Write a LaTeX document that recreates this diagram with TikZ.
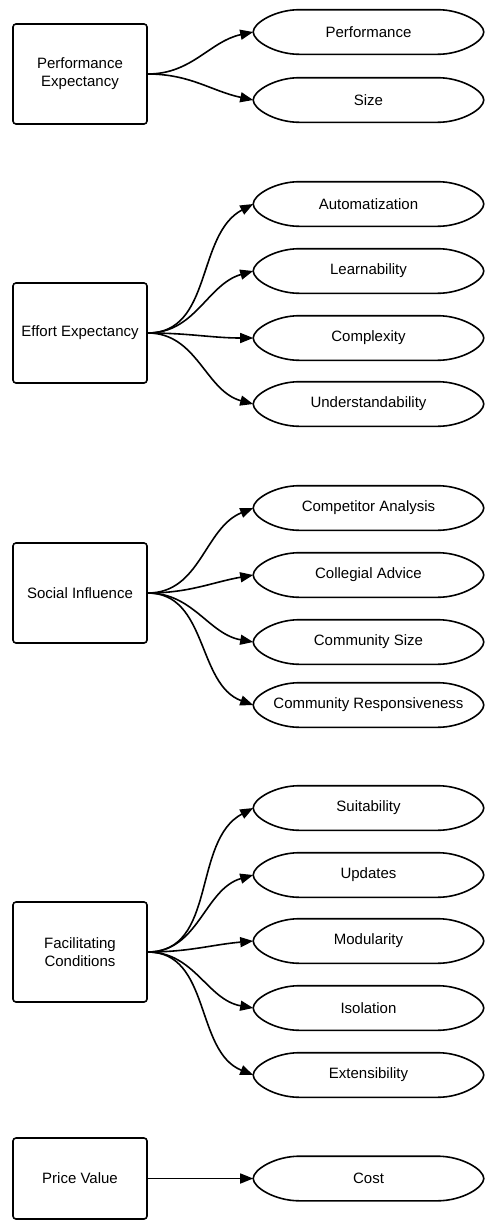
\documentclass[tikz,border=0pt]{standalone}
\usepackage{fontspec}
\setmainfont{Liberation Sans}
\usetikzlibrary{arrows.meta}

\begin{document}
\begin{tikzpicture}
[x=1pt, y=-1pt, font=\fontsize{15}{18}\selectfont, line width=1.6pt,
construct/.style={draw, rectangle, rounded corners=3pt, minimum width=134pt,
  minimum height=100pt, align=center, inner sep=0pt},
factor/.style={rectangle, minimum width=229pt, minimum height=43pt, inner sep=0pt},
link/.style={-{Triangle[length=13pt, width=10pt]}}
]

\useasboundingbox (0,0) rectangle (498,1224);

% position constructs on the left
\path
(80,74) coordinate (b1)
(80,333) coordinate (b2)
(80,593) coordinate (b3)
(80,952) coordinate (b4)
(80,1178.5) coordinate (b5)
;

% construct boxes
\path foreach \x/\t in {1/{Performance\\Expectancy}, 2/{Effort Expectancy},
  3/{Social Influence}, 4/{Facilitating\\Conditions}}
{(b\x) node[construct] (B\x) {\t}}
;
\path (b5) node[construct, minimum height=81pt] (B5) {Price Value};

% factor labels on the right
\path foreach \x/\y/\t in {1/32/Performance, 2/100/Size,
  3/204/Automatization, 4/271/Learnability, 5/338/Complexity,
  6/404/Understandability, 7/508/Competitor Analysis,
  8/575/Collegial Advice, 9/642/Community Size,
  10/705/Community Responsiveness, 11/808/Suitability, 12/875/Updates,
  13/941/Modularity, 14/1008/Isolation, 15/1075/Extensibility,
  16/1178.5/Cost}
{(368.5,\y) node[factor] (E\x) {\t}}
;

% flattened ellipse outlines
\foreach \x in {1,...,16}
  \draw (E\x.west) .. controls +(0,-9) and +(-24,0) .. ([xshift=46pt]E\x.north west)
  -- ([xshift=-46pt]E\x.north east) .. controls +(24,0) and +(0,-9) .. (E\x.east)
  .. controls +(0,9) and +(24,0) .. ([xshift=-46pt]E\x.south east)
  -- ([xshift=46pt]E\x.south west) .. controls +(-24,0) and +(0,9) .. cycle;

% links
\foreach \s/\e/\a in {1/1/192, 1/2/168,
  2/3/208, 2/4/196, 2/5/180, 2/6/165,
  3/7/202, 3/8/190, 3/9/170, 3/10/160,
  4/11/208, 4/12/196, 4/13/185, 4/14/170, 4/15/158,
  5/16/180}
  \draw[link] (B\s.east) to[out=0, in=\a] (E\e.west);

\end{tikzpicture}
\end{document}
